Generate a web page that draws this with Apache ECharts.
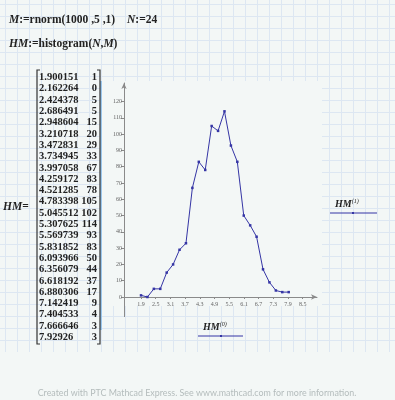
<!DOCTYPE html>
<html><head><meta charset="utf-8">
<script src="https://cdn.jsdelivr.net/npm/echarts@6/dist/echarts.min.js"></script>
<style>
html,body{margin:0;padding:0;background:#f3f7f6;overflow:hidden;}
#bg{position:absolute;left:0;top:0;width:395px;height:352px;background-image:linear-gradient(to right,#dde7f2 1px,transparent 1px),linear-gradient(to bottom,#dde7f2 1px,transparent 1px);background-size:12px 12px;background-position:5px 4px;}
#c{position:absolute;left:0;top:0;width:395px;height:400px;}
</style></head><body><div id="bg"></div><div id="c"></div>
<script>
const bins = [1.900151,2.162264,2.424378,2.686491,2.948604,3.210718,3.472831,3.734945,3.997058,4.259172,4.521285,4.783398,5.045512,5.307625,5.569739,5.831852,6.093966,6.356079,6.618192,6.880306,7.142419,7.404533,7.666646,7.92926];
const counts = [1,0,5,5,15,20,29,33,67,83,78,105,102,114,93,83,50,44,37,17,9,4,3,3];
const xTicks = [1.9,2.5,3.1,3.7,4.3,4.9,5.5,6.1,6.7,7.3,7.9,8.5];
const yTicks = [0,10,20,30,40,50,60,70,80,90,100,110,120];

const chart = echarts.init(document.getElementById('c'), null, {renderer:'canvas'});
const serif = '"Liberation Serif", "DejaVu Serif", serif';
const lineColor = '#3535a5';
const axisColor = '#8a8a8a';

const graphic = [];
graphic.push({type:'rect', z:-5, shape:{x:102,y:81,width:220,height:225}, style:{fill:'#f3f7f6'}});
graphic.push({type:'line', z:-4, shape:{x1:101,y1:81,x2:101,y2:330}, style:{stroke:'#9cc8ee',lineWidth:2}});
graphic.push({type:'line', shape:{x1:124.5,y1:297,x2:124.5,y2:317}, style:{stroke:axisColor,lineWidth:1}});
const f = 'bold 11.5px '+serif, fi = 'italic bold 11.5px '+serif;
graphic.push({type:'text', left:9, top:14, style:{text:'{i|M}:=rnorm(1000 ,5 ,1)', font:f, fill:'#222', rich:{i:{font:fi, fill:'#222'}}}});
graphic.push({type:'text', left:127, top:14, style:{text:'{i|N}:=24', font:f, fill:'#222', rich:{i:{font:fi, fill:'#222'}}}});
graphic.push({type:'text', left:9, top:38, style:{text:'{i|HM}:=histogram({i|N},{i|M})', font:f, fill:'#222', rich:{i:{font:fi, fill:'#222'}}}});
const rowH = 11.3, row0 = 77.4;
bins.forEach((b, i) => {
  graphic.push({type:'text', x:39, y:row0 + i*rowH, style:{text:String(b), font:'bold 10.5px '+serif, fill:'#222', textVerticalAlign:'middle', textAlign:'left'}});
  graphic.push({type:'text', x:97, y:row0 + i*rowH, style:{text:String(counts[i]), font:'bold 10.5px '+serif, fill:'#222', textVerticalAlign:'middle', textAlign:'right'}});
});
graphic.push({type:'polyline', shape:{points:[[40,70],[37,70],[37,344],[40,344]]}, style:{stroke:'#333',lineWidth:1.2, fill:null}});
graphic.push({type:'polyline', shape:{points:[[97,70],[100,70],[100,344],[97,344]]}, style:{stroke:'#333',lineWidth:1.2, fill:null}});
graphic.push({type:'text', x:3, y:207, style:{text:'{i|HM}=', font:'bold 11.5px '+serif, fill:'#222', textVerticalAlign:'middle', rich:{i:{font:'italic bold 11.5px '+serif, fill:'#222'}}}});
graphic.push({type:'text', x:335, y:204, style:{text:'{i|HM}{s|(1)}', textVerticalAlign:'middle', rich:{i:{font:'italic bold 10px '+serif, fill:'#222'}, s:{font:'italic 6px '+serif, fill:'#222', verticalAlign:'top', padding:[0,0,6,0]}}}});
graphic.push({type:'line', shape:{x1:330,y1:213,x2:377,y2:213}, style:{stroke:lineColor,lineWidth:1}});
graphic.push({type:'rect', shape:{x:352,y:212,width:2,height:2}, style:{fill:lineColor}});
graphic.push({type:'text', x:203, y:327, style:{text:'{i|HM}{s|(0)}', textVerticalAlign:'middle', rich:{i:{font:'italic bold 10px '+serif, fill:'#222'}, s:{font:'italic 6px '+serif, fill:'#222', verticalAlign:'top', padding:[0,0,6,0]}}}});
graphic.push({type:'line', shape:{x1:198,y1:336,x2:243,y2:336}, style:{stroke:lineColor,lineWidth:1}});
graphic.push({type:'rect', shape:{x:220,y:335,width:2,height:2}, style:{fill:lineColor}});
graphic.push({type:'text', x:197, y:393, style:{text:'Created with PTC Mathcad Express. See www.mathcad.com for more information.', font:'8.9px Lato, "Open Sans", sans-serif', fill:'#b4bcbc', textAlign:'center', textVerticalAlign:'middle'}});

chart.setOption({
  backgroundColor:'transparent',
  animation:false,
  grid:{left:124, right:78, top:83, bottom:103},
  xAxis:{type:'value', min:1.206, max:9.084,
    axisLine:{onZero:false, lineStyle:{color:axisColor, width:1}, symbol:['none','arrow'], symbolSize:[4,6]},
    axisTick:{show:true, length:2, customValues:xTicks, lineStyle:{color:axisColor}},
    axisLabel:{customValues:xTicks, fontSize:6, color:'#666', fontFamily:serif, margin:4, formatter:v=>v.toFixed(1)},
    splitLine:{show:false}},
  yAxis:{type:'value', min:0, max:131.4,
    axisLine:{show:true, onZero:false, lineStyle:{color:axisColor, width:1}, symbol:['none','arrow'], symbolSize:[4,6]},
    axisTick:{show:true, length:3, customValues:yTicks, lineStyle:{color:axisColor}},
    axisLabel:{customValues:yTicks, fontSize:6, color:'#666', fontFamily:serif, margin:2},
    splitLine:{show:false}},
  series:[{type:'line', data:bins.map((b,i)=>[b,counts[i]]), symbol:'rect', symbolSize:2.5, showSymbol:true, clip:false,
    lineStyle:{color:lineColor, width:1}, itemStyle:{color:lineColor}}],
  graphic:{elements:graphic}
});
</script></body></html>
